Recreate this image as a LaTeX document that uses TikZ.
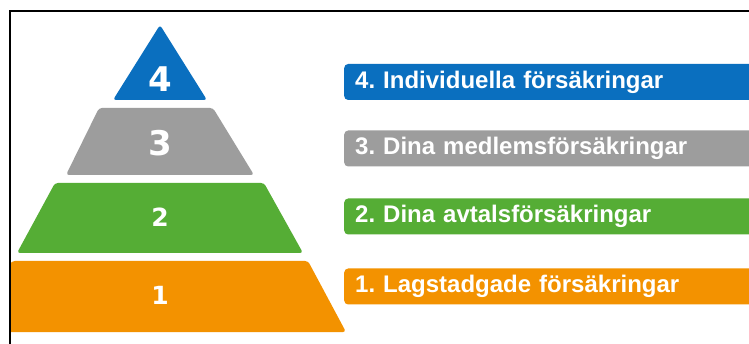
\documentclass[tikz,border=0pt]{standalone}
\usepackage{fontspec}
\setmainfont{Liberation Sans}
\newfontfamily\numfont{DejaVu Sans}
\definecolor{cblue}{HTML}{0A6FBF}
\definecolor{cgray}{HTML}{9D9D9D}
\definecolor{cgreen}{HTML}{55AD35}
\definecolor{corange}{HTML}{F39200}
\tikzset{
  layer/.style={rounded corners=3pt},
  num/.style={text=white, font=\numfont\bfseries\fontsize{34}{34}\selectfont, inner sep=0pt},
  numsmall/.style={text=white, font=\numfont\bfseries\fontsize{25}{25}\selectfont, inner sep=0pt},
  bar/.style={anchor=west, rounded corners=4pt, minimum height=36pt, text width=400pt, align=left,
    inner xsep=11pt, inner ysep=0pt, text=white, font=\bfseries\fontsize{24}{24}\selectfont},
}
\begin{document}
\frenchspacing
\begin{tikzpicture}[x=1pt,y=-1pt]
\useasboundingbox (0,0) rectangle (749,344);
\fill[white] (0,0) rectangle (749,344);
\begin{scope}
\clip (10,11) rectangle (749,344);
% pyramid layers
\fill[cblue, layer] (113,100) -- (160,25) -- (207,100) -- cycle;
\fill[cgray, layer] (99,108) -- (213,108) -- (254,175) -- (66,175) -- cycle;
\fill[cgreen, layer] (55,183) -- (264,183) -- (303,253) -- (17,253) -- cycle;
\fill[corange, layer] (12,261) -- (308,261) -- (346,332) -- (-40,332) -- cycle;
\node[num] (n4) at (160,79) {4};
\node[num] (n3) at (160,143) {3};
\node[numsmall] (n2) at (160,217) {2};
\node[numsmall] (n1) at (160,295) {1};
% bars
\node[bar, fill=cblue] (b4) at (344,82) {4. Individuella försäkringar};
\node[bar, fill=cgray] (b3) at (344,148.5) {3. Dina medlemsförsäkringar};
\node[bar, fill=cgreen] (b2) at (344,216.5) {2. Dina avtalsförsäkringar};
\node[bar, fill=corange] (b1) at (344,286.5) {1. Lagstadgade försäkringar};
\end{scope}
% frame
\draw[line width=1.8pt] (10,344) -- (10,11) -- (749,11);
\end{tikzpicture}
\end{document}
